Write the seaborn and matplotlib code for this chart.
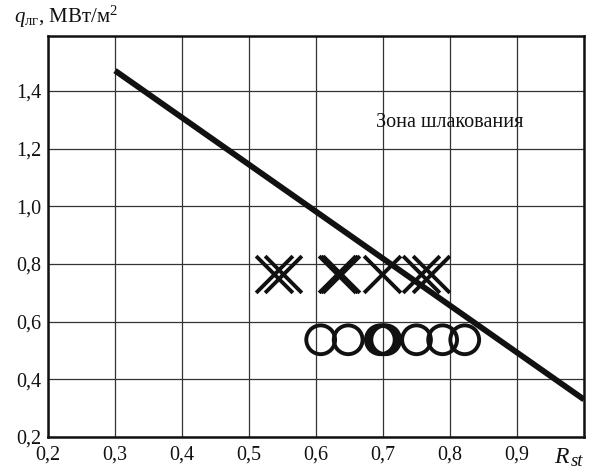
import matplotlib
matplotlib.use("Agg")
import matplotlib.pyplot as plt
import seaborn as sns
import pandas as pd

# Boundary of the slagging zone
boundary_rst = [0.30, 1.00]
boundary_q = [1.47, 0.33]

# Experimental points: slagging observed (crosses)
cross_rst = [0.538, 0.551, 0.632, 0.635, 0.638, 0.699, 0.757, 0.771]
cross_q = [0.765, 0.765, 0.765, 0.765, 0.765, 0.765, 0.765, 0.765]

# Experimental points: no slagging (circles)
circle_rst = [0.607, 0.648, 0.696, 0.700, 0.704, 0.750, 0.789, 0.822]
circle_q = [0.537, 0.537, 0.537, 0.537, 0.537, 0.537, 0.537, 0.537]

x_ticks = [0.2, 0.3, 0.4, 0.5, 0.6, 0.7, 0.8, 0.9, 1.0]
x_tick_labels = ["0,2", "0,3", "0,4", "0,5", "0,6", "0,7", "0,8", "0,9", ""]
y_ticks = [0.2, 0.4, 0.6, 0.8, 1.0, 1.2, 1.4]
y_tick_labels = ["0,2", "0,4", "0,6", "0,8", "1,0", "1,2", "1,4"]

zone_label = "Зона шлакования"

sns.set_style("white")
plt.rcParams["font.family"] = ["Liberation Serif", "DejaVu Serif"]
plt.rcParams["mathtext.fontset"] = "custom"
plt.rcParams["mathtext.rm"] = "Liberation Serif"
plt.rcParams["mathtext.it"] = "Liberation Serif:italic"

fig = plt.figure(figsize=(5.89, 4.70), dpi=100)
ax = fig.add_axes([48 / 589, 33 / 470, 536 / 589, 401 / 470])

df_line = pd.DataFrame({"rst": boundary_rst, "q": boundary_q})
df_cross = pd.DataFrame({"rst": cross_rst, "q": cross_q})
df_circle = pd.DataFrame({"rst": circle_rst, "q": circle_q})

sns.lineplot(data=df_line, x="rst", y="q", ax=ax, color="#111111",
             linewidth=4.2, solid_capstyle="butt", zorder=4)
sns.scatterplot(data=df_cross, x="rst", y="q", ax=ax, marker="x",
                s=700, color="#111111", linewidth=2.8, zorder=3)
sns.scatterplot(data=df_circle, x="rst", y="q", ax=ax, marker="o",
                s=430, facecolors="none", edgecolor="#111111",
                linewidth=2.8, zorder=3)

ax.set_xlim(0.2, 1.0)
ax.set_ylim(0.2, 1.59)
ax.set_xticks(x_ticks)
ax.set_xticklabels(x_tick_labels)
ax.set_yticks(y_ticks)
ax.set_yticklabels(y_tick_labels)
ax.tick_params(axis="both", length=0, labelsize=14.5, colors="#111111")
ax.tick_params(axis="x", pad=6)
ax.tick_params(axis="y", pad=5)
ax.set_xlabel("")
ax.set_ylabel("")

ax.grid(True, color="#333333", linewidth=0.9)
ax.set_axisbelow(True)
for sp in ax.spines.values():
    sp.set_visible(True)
    sp.set_color("#111111")
    sp.set_linewidth(1.8)

ax.text(0.8, 1.29, zone_label, ha="center", va="center", fontsize=14.5,
        color="#111111", zorder=5)

fig.text(14 / 589, 1 - 23 / 470, r"$q_{\mathrm{лг}}$, МВт/м$^2$",
         ha="left", va="baseline", fontsize=15, color="#111111")

# Axis name for R_st with a large italic subscript
fig.text(554 / 589, 1 - 463 / 470, "R", ha="left", va="baseline",
         fontsize=17, style="italic", color="#111111")
fig.text(571 / 589, 1 - 466 / 470, "st", ha="left", va="baseline",
         fontsize=13.5, style="italic", color="#111111")

fig.savefig("out.png", dpi=100)
